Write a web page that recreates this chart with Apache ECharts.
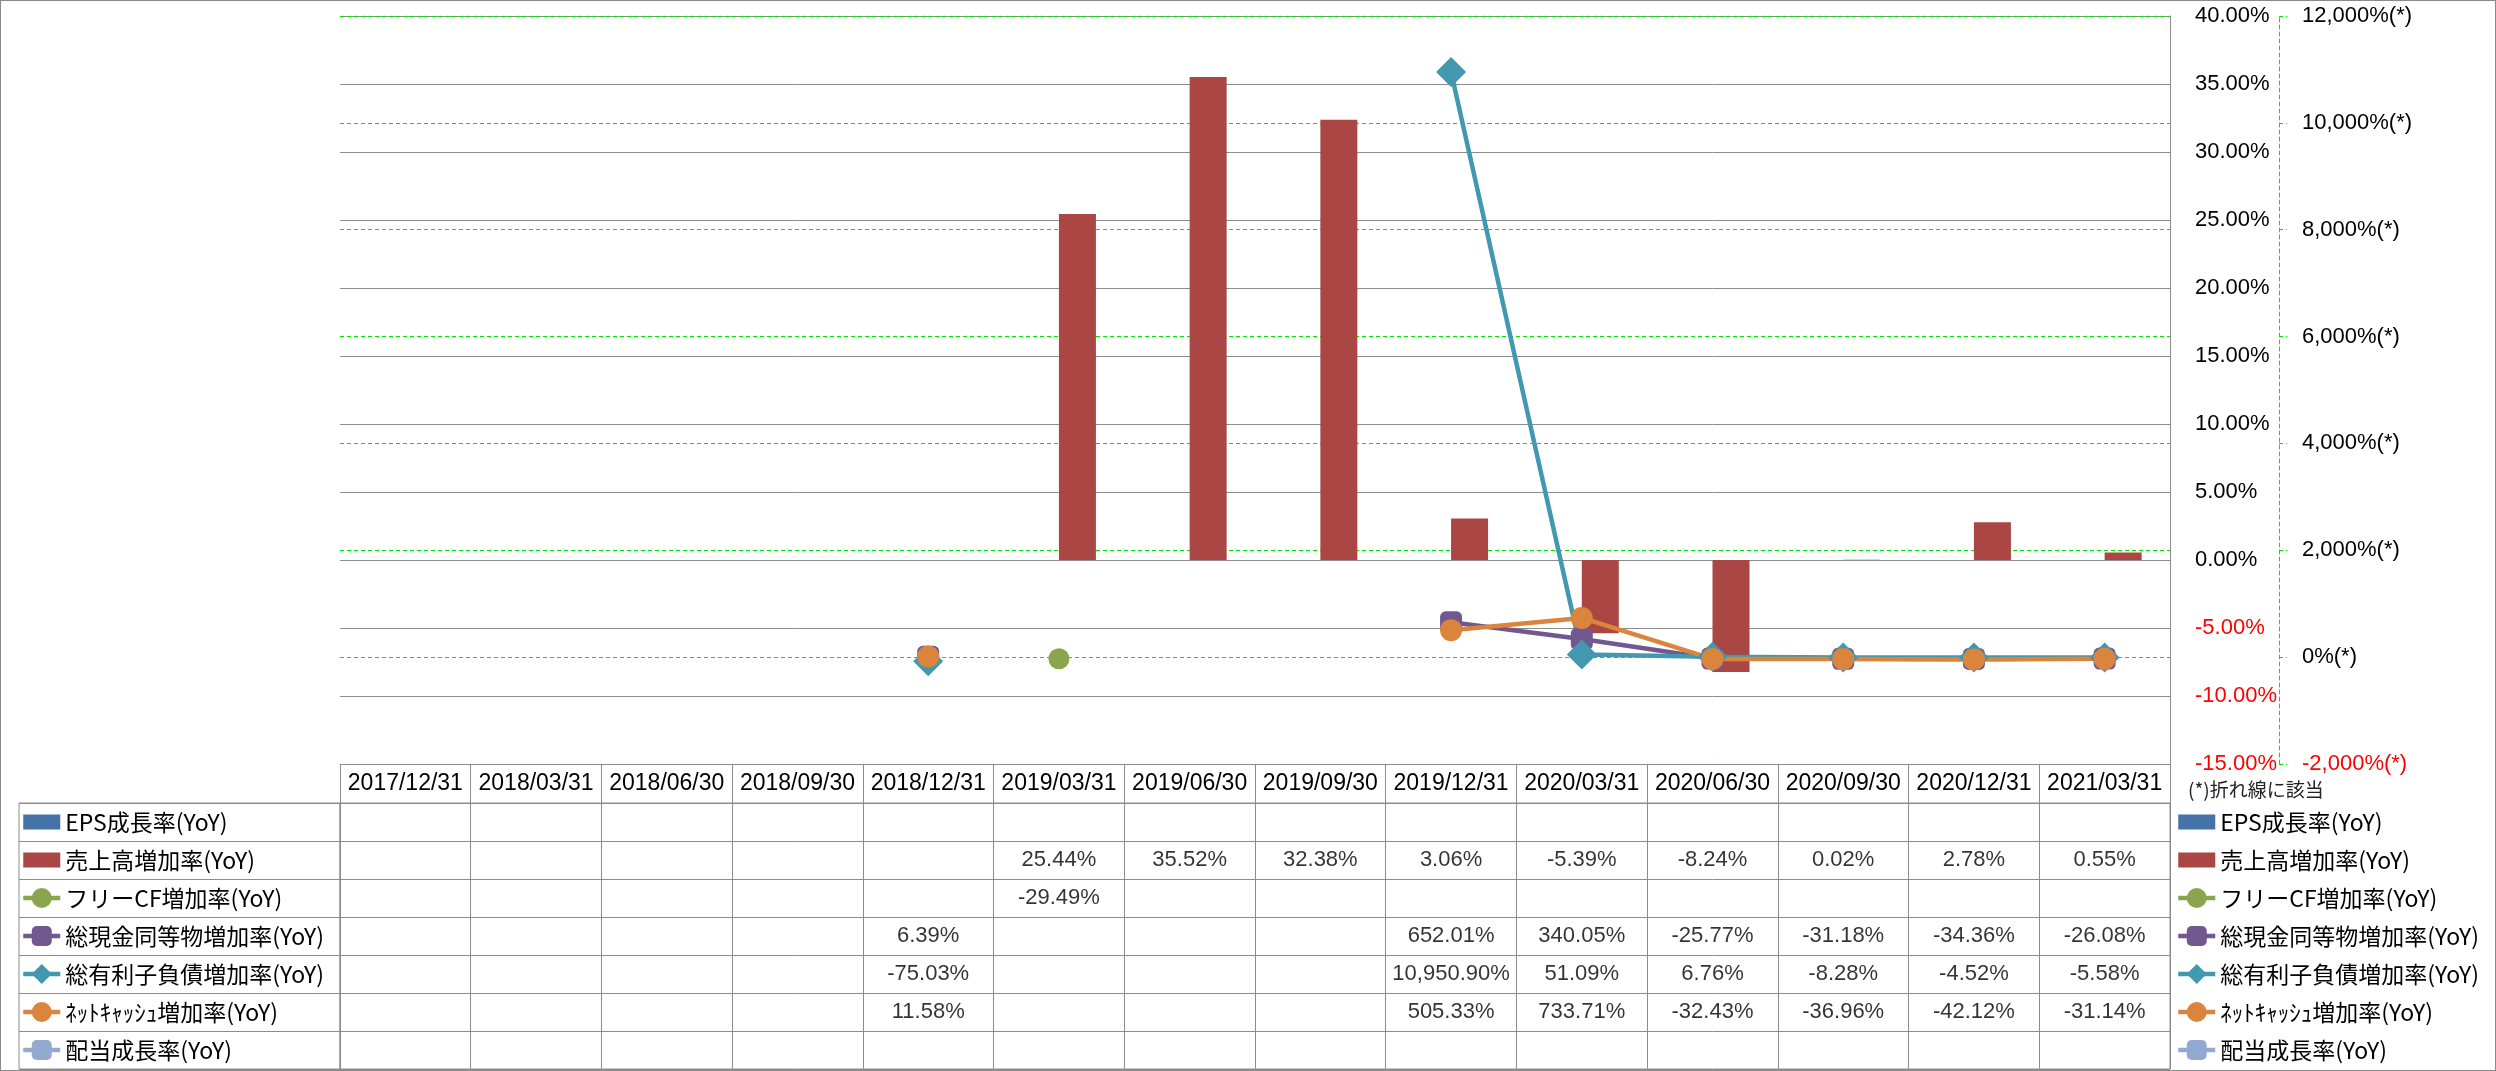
<!DOCTYPE html>
<html><head><meta charset="utf-8">
<script src="https://cdn.jsdelivr.net/npm/echarts@6/dist/echarts.min.js"></script>
<style>
html,body{margin:0;padding:0;background:#fff}
#c{width:2496px;height:1071px;position:absolute;left:0;top:0}
#f{position:absolute;left:0;top:0;width:2494px;height:1069px;border:1px solid #8a8a8a;pointer-events:none}
</style>
</head><body><div id="c"></div><div id="f"></div>
<script>
// ---- data ----
const categories = ['2017/12/31','2018/03/31','2018/06/30','2018/09/30','2018/12/31','2019/03/31','2019/06/30','2019/09/30','2019/12/31','2020/03/31','2020/06/30','2020/09/30','2020/12/31','2021/03/31'];
const seriesNames = ['EPS成長率(YoY)','売上高増加率(YoY)','フリーCF増加率(YoY)','総現金同等物増加率(YoY)','総有利子負債増加率(YoY)','ﾈｯﾄｷｬｯｼｭ増加率(YoY)','配当成長率(YoY)'];
const epsGrowth   = [null,null,null,null,null,null,null,null,null,null,null,null,null,null];
const salesGrowth = [null,null,null,null,null,25.44,35.52,32.38,3.06,-5.39,-8.24,0.02,2.78,0.55];
const fcfGrowth   = [null,null,null,null,null,-29.49,null,null,null,null,null,null,null,null];
const cashGrowth  = [null,null,null,null,6.39,null,null,null,652.01,340.05,-25.77,-31.18,-34.36,-26.08];
const debtGrowth  = [null,null,null,null,-75.03,null,null,null,10950.90,51.09,6.76,-8.28,-4.52,-5.58];
const netCashGrowth = [null,null,null,null,11.58,null,null,null,505.33,733.71,-32.43,-36.96,-42.12,-31.14];
const dividendGrowth = [null,null,null,null,null,null,null,null,null,null,null,null,null,null];
const leftAxisRange  = [-15, 40, 5];
const rightAxisRange = [-2000, 12000, 2000];
const footnote = '(*)折れ線に該当';

const colors = ['#4572A7','#AA4643','#89A54E','#71588F','#4198AF','#DB843D','#93A9CF'];
const rows = [epsGrowth, salesGrowth, fcfGrowth, cashGrowth, debtGrowth, netCashGrowth, dividendGrowth];

const fmtPct = v => v.toLocaleString('en-US',{minimumFractionDigits:2,maximumFractionDigits:2}) + '%';
const tableCells = [];
rows.forEach((arr, r) => arr.forEach((v, c) => { if (v !== null) tableCells.push([c, r, fmtPct(v)]); }));

const GRAY = '#8c8c8c', GREEN = '#00e600', RED = '#ff0000';
const latin = '"Liberation Sans", Arial, sans-serif';
const cjk = '"Noto Sans CJK JP", sans-serif';
const dash = [4, 3];

const legendData = seriesNames.map((n, i) => i < 2 ? {name: n, icon: 'path://M0,0H32V13H0Z'} : {name: n});
const legendBase = {
  data: legendData, orient: 'vertical', top: 803, padding: 0, itemGap: 0,
  itemWidth: 37, itemHeight: 25, selectedMode: false,
  lineStyle: {width: 4.5},
  textStyle: {fontSize: 23, lineHeight: 38, color: '#000', fontFamily: cjk}
};

const lineSeries = (idx, data, symbol, size) => ({
  name: seriesNames[idx], type: 'line', xAxisIndex: 0, yAxisIndex: 1, data: data,
  symbol: symbol, symbolSize: size, showSymbol: true, showAllSymbol: true, connectNulls: false,
  lineStyle: {width: 4.5, color: colors[idx]}, itemStyle: {color: colors[idx]}
});

const chart = echarts.init(document.getElementById('c'), null, {renderer: 'canvas'});
chart.setOption({
  animation: false,
  textStyle: {fontFamily: latin},
  title: {text: footnote, left: 2188, top: 780, padding: 0,
    textStyle: {fontSize: 19, fontWeight: 'normal', color: '#222', fontFamily: cjk}},
  grid: [
    {left: 340, width: 1830, top: 16, height: 748, outerBoundsMode: 'none'},
    {left: 340, width: 1830, top: 803, height: 266, show: true, borderColor: GRAY, borderWidth: 1, outerBoundsMode: 'none'},
    {left: 19, width: 321, top: 803, height: 266, show: true, borderColor: GRAY, borderWidth: 1, outerBoundsMode: 'none'}
  ],
  xAxis: [
    {gridIndex: 0, type: 'category', data: categories, boundaryGap: true, position: 'bottom',
      axisLine: {onZero: false, lineStyle: {color: GRAY}},
      axisTick: {show: true, interval: 0, length: 39, lineStyle: {color: GRAY}},
      axisLabel: {interval: 0, margin: 8, fontSize: 23, color: '#000', fontFamily: latin},
      splitLine: {show: false}},
    {gridIndex: 1, type: 'category', data: categories, boundaryGap: true,
      axisLine: {show: false}, axisTick: {show: false}, axisLabel: {show: false},
      splitLine: {show: true, interval: 0, lineStyle: {color: GRAY}}},
    {gridIndex: 2, type: 'value', show: false}
  ],
  yAxis: [
    {gridIndex: 0, type: 'value', position: 'right', min: leftAxisRange[0], max: leftAxisRange[1], interval: leftAxisRange[2],
      axisLine: {show: true, lineStyle: {color: GRAY}}, axisTick: {show: false},
      axisLabel: {margin: 25, fontSize: 22, fontFamily: latin,
        color: v => Number(v) < 0 ? RED : '#000',
        formatter: v => Number(v).toFixed(2) + '%'},
      splitLine: {show: true, lineStyle: {color: GRAY}}},
    {gridIndex: 0, type: 'value', position: 'right', offset: 109, min: rightAxisRange[0], max: rightAxisRange[1], interval: rightAxisRange[2],
      axisLine: {show: true, lineStyle: {color: GREEN, type: dash}},
      axisTick: {show: true, length: 8, lineStyle: {color: GREEN, type: dash}},
      axisLabel: {margin: 23, fontSize: 22, fontFamily: latin,
        color: v => Number(v) < 0 ? RED : '#000',
        formatter: v => Number(v).toLocaleString('en-US') + '%(*)'},
      splitLine: {show: true, lineStyle: {color: GREEN, type: dash}}},
    {gridIndex: 1, type: 'category', data: seriesNames, inverse: true,
      axisLine: {show: false}, axisTick: {show: false}, axisLabel: {show: false},
      splitLine: {show: true, interval: 0, lineStyle: {color: GRAY}}},
    {gridIndex: 2, type: 'category', data: seriesNames, inverse: true,
      axisLine: {show: false}, axisTick: {show: false}, axisLabel: {show: false},
      splitLine: {show: true, interval: 0, lineStyle: {color: GRAY}}}
  ],
  legend: [
    Object.assign({}, legendBase, {left: 21}),
    Object.assign({}, legendBase, {left: 2176})
  ],
  series: [
    {name: seriesNames[0], type: 'bar', xAxisIndex: 0, yAxisIndex: 0, data: epsGrowth, barWidth: 37, barGap: '0%', itemStyle: {color: colors[0]}},
    {name: seriesNames[1], type: 'bar', xAxisIndex: 0, yAxisIndex: 0, data: salesGrowth, barWidth: 37, barGap: '0%', itemStyle: {color: colors[1]}},
    lineSeries(2, fcfGrowth, 'circle', 21),
    lineSeries(3, cashGrowth, 'roundRect', 22),
    lineSeries(4, debtGrowth, 'diamond', 30),
    lineSeries(5, netCashGrowth, 'circle', 22),
    lineSeries(6, dividendGrowth, 'roundRect', 22),
    {type: 'scatter', xAxisIndex: 1, yAxisIndex: 2, data: tableCells, symbolSize: 1, silent: true,
      itemStyle: {color: 'rgba(0,0,0,0)'},
      label: {show: true, position: 'inside', formatter: p => p.value[2], fontSize: 22, color: '#000', fontFamily: latin}}
  ]
});
</script>
</body></html>
